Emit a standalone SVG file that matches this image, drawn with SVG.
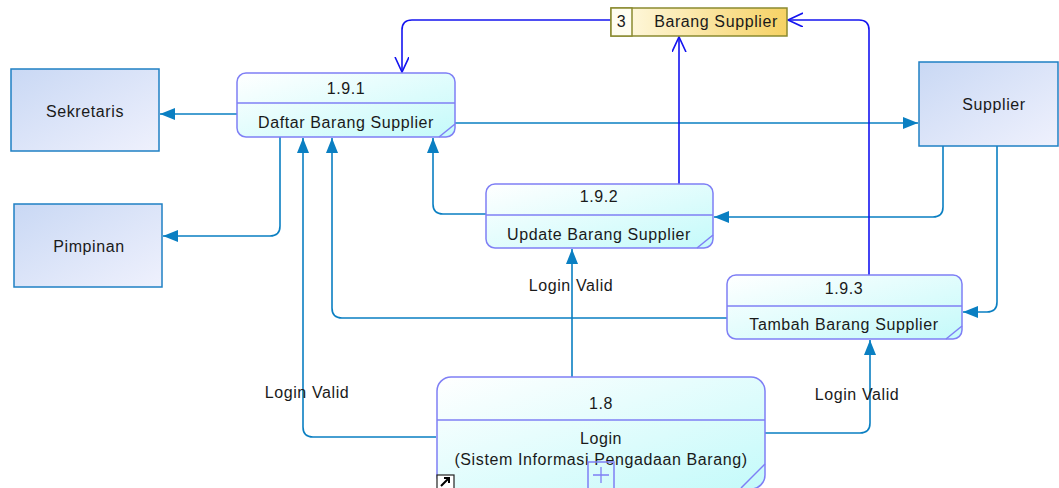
<svg xmlns="http://www.w3.org/2000/svg" width="1059" height="488" viewBox="0 0 1059 488">
  <style>
    text { font-family: "Liberation Sans", Arial, sans-serif; font-size: 16px; letter-spacing: 0.6px; fill: #1a1a1a; text-anchor: middle; }
    .proc { fill: url(#procFill); stroke: #7f7ff5; stroke-width: 1.5; }
    .divider { stroke: #7f7ff5; stroke-width: 1.5; }
    .ext { fill: url(#extFill); stroke: #1f80c4; stroke-width: 1.5; }
    .flow { fill: none; stroke: #0a7fc2; stroke-width: 1.6; marker-end: url(#solidArrow); }
    .store-flow { fill: none; stroke: #1414f0; stroke-width: 1.6; marker-end: url(#openArrow); }
  </style>
  <defs>
    <linearGradient id="procFill" x1="0" y1="0" x2="1" y2="1">
      <stop offset="0" stop-color="#ffffff"/>
      <stop offset="1" stop-color="#c4fafa"/>
    </linearGradient>
    <linearGradient id="extFill" x1="0" y1="0" x2="1" y2="1">
      <stop offset="0" stop-color="#c9d8f4"/>
      <stop offset="1" stop-color="#eff1fd"/>
    </linearGradient>
    <linearGradient id="storeFill" x1="0" y1="0" x2="1" y2="0">
      <stop offset="0" stop-color="#fffbe8"/>
      <stop offset="1" stop-color="#f6d264"/>
    </linearGradient>
    <marker id="solidArrow" markerUnits="userSpaceOnUse" markerWidth="16" markerHeight="14" refX="15" refY="6" orient="auto">
      <path d="M0,0 L15,6 L0,12 Z" fill="#0a7fc2"/>
    </marker>
    <marker id="openArrow" markerUnits="userSpaceOnUse" markerWidth="18" markerHeight="16" refX="15" refY="7" orient="auto">
      <path d="M0,0 L15,7 L0,14" fill="none" stroke="#1414f0" stroke-width="1.6"/>
    </marker>
  </defs>

  <rect width="1059" height="488" fill="#ffffff"/>

  <!-- connectors -->
  <g id="connectors">
    <path class="flow" d="M237,114 H160"/>
    <path class="flow" d="M455,123 H918"/>
    <path class="flow" d="M280,137 V226 Q280,236 270,236 H163"/>
    <path class="flow" d="M436,437 H313 Q303,437 303,427 V138"/>
    <path class="flow" d="M727,318 H342 Q332,318 332,308 V138"/>
    <path class="flow" d="M486,214 H443 Q433,214 433,204 V138"/>
    <path class="flow" d="M572,377 V249"/>
    <path class="flow" d="M765,433 H860 Q870,433 870,423 V340"/>
    <path class="flow" d="M943,146 V207 Q943,217 933,217 H714"/>
    <path class="flow" d="M997,146 V302 Q997,312 987,312 H963"/>
    <path class="store-flow" d="M611,20 H412 Q402,20 402,30 V72"/>
    <path class="store-flow" d="M679,184 V37"/>
    <path class="store-flow" d="M869,275 V30 Q869,20 859,20 H788"/>
    <text x="307" y="398">Login Valid</text>
    <text x="571" y="291">Login Valid</text>
    <text x="857" y="400">Login Valid</text>
  </g>

  <!-- data store 3 -->
  <g id="store3">
    <rect x="611" y="8" width="176" height="28" fill="url(#storeFill)" stroke="#8a8a30" stroke-width="1.5"/>
    <rect x="611" y="8" width="21" height="28" fill="#fffdf0" stroke="#8a8a30" stroke-width="1.5"/>
    <text x="621.5" y="27">3</text>
    <text x="716" y="27">Barang Supplier</text>
  </g>

  <!-- external entities -->
  <g id="sekretaris">
    <rect class="ext" x="11" y="69" width="148" height="82"/>
    <text x="85" y="117">Sekretaris</text>
  </g>
  <g id="pimpinan">
    <rect class="ext" x="14" y="204" width="148" height="83"/>
    <text x="89" y="252">Pimpinan</text>
  </g>
  <g id="supplier">
    <rect class="ext" x="919" y="62" width="139" height="84"/>
    <text x="994" y="110">Supplier</text>
  </g>

  <!-- processes -->
  <g id="p191">
    <rect class="proc" x="237" y="73" width="218" height="64" rx="9"/>
    <line class="divider" x1="237" y1="103" x2="455" y2="103"/>
    <line class="divider" x1="439" y1="137" x2="455" y2="124"/>
    <text x="346" y="94">1.9.1</text>
    <text x="346" y="128">Daftar Barang Supplier</text>
  </g>
  <g id="p192">
    <rect class="proc" x="486" y="184" width="227" height="64" rx="9"/>
    <line class="divider" x1="486" y1="215" x2="713" y2="215"/>
    <line class="divider" x1="697" y1="248" x2="713" y2="235"/>
    <text x="599" y="202">1.9.2</text>
    <text x="599" y="240">Update Barang Supplier</text>
  </g>
  <g id="p193">
    <rect class="proc" x="727" y="275" width="235" height="64" rx="9"/>
    <line class="divider" x1="727" y1="306" x2="962" y2="306"/>
    <line class="divider" x1="946" y1="339" x2="962" y2="326"/>
    <text x="844" y="294">1.9.3</text>
    <text x="844" y="330">Tambah Barang Supplier</text>
  </g>
  <g id="p18">
    <rect class="proc" x="437" y="377" width="328" height="112" rx="14"/>
    <line class="divider" x1="437" y1="420" x2="765" y2="420"/>
    <line class="divider" x1="741" y1="488" x2="765" y2="464"/>
    <text x="601" y="409">1.8</text>
    <text x="601" y="444">Login</text>
    <text x="601" y="465">(Sistem Informasi Pengadaan Barang)</text>
    <rect x="588" y="462" width="26" height="28" fill="none" stroke="#7f7ff5" stroke-width="1.5"/>
    <path d="M601,467 V483 M593,475 H609" stroke="#7f7ff5" stroke-width="1.3"/>
    <rect x="437" y="475" width="17" height="15" fill="#ffffff" stroke="#222" stroke-width="1.2"/>
    <path d="M441,486 L449,478 M444,478 H449 V483" stroke="#000" stroke-width="2" fill="none"/>
  </g>
</svg>
